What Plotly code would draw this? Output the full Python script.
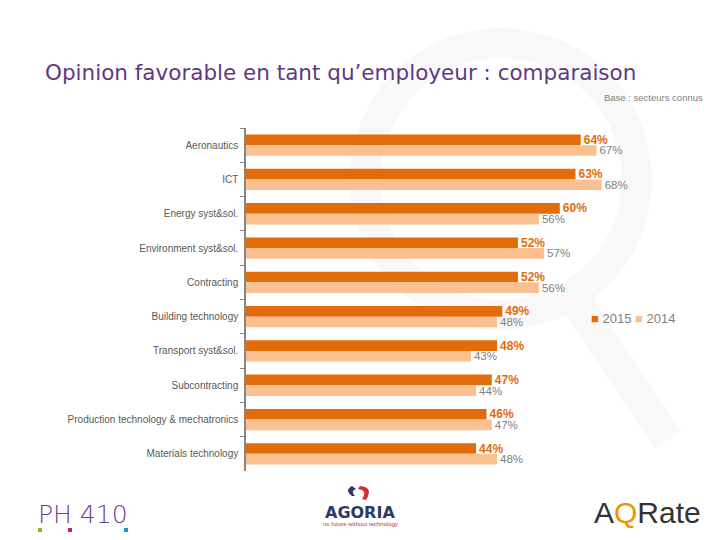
import plotly.graph_objects as go

categories = ["Aeronautics", "ICT", "Energy syst&sol.", "Environment syst&sol.", "Contracting",
              "Building technology", "Transport syst&sol.", "Subcontracting",
              "Production technology & mechatronics", "Materials technology"]
values_2015 = [64, 63, 60, 52, 52, 49, 48, 47, 46, 44]
values_2014 = [67, 68, 56, 57, 56, 48, 43, 44, 47, 48]
series_names = ["2015", "2014"]

W, H = 720, 540
OFF = 8  # page body margin offset
L, R, T = 246 - OFF, 20, 128 - OFF
PH = 343
B = H - T - PH
PW = W - L - R


def px(x):
    return (x - OFF - L) / PW


def py(y):
    return 1 - (y - OFF - T) / PH


C15 = "#E36C0A"
C14 = "#FAC090"

fig = go.Figure()
fig.add_trace(go.Bar(
    y=categories, x=values_2015, name=series_names[0], orientation="h",
    marker=dict(color=C15, line=dict(width=0)),
    texttemplate="%{x}%", textposition="outside", cliponaxis=False, constraintext="none",
    textfont=dict(family="Liberation Sans", size=12, color=C15, weight="bold"),
    showlegend=False,
))
fig.add_trace(go.Bar(
    y=categories, x=values_2014, name=series_names[1], orientation="h",
    marker=dict(color=C14, line=dict(width=0)),
    texttemplate="%{x}%", textposition="outside", cliponaxis=False, constraintext="none",
    textfont=dict(family="Liberation Sans", size=11.5, color="#808080"),
    showlegend=False,
))

shapes = []
# faint magnifier watermark
cx, cy, r = 501, 179, 136
shapes.append(dict(type="circle", xref="paper", yref="paper", layer="below",
                   x0=px(cx - r), x1=px(cx + r), y0=py(cy + r), y1=py(cy - r),
                   line=dict(color="#F8F8F8", width=30)))
shapes.append(dict(type="line", xref="paper", yref="paper", layer="below",
                   x0=px(575), y0=py(300), x1=px(668), y1=py(440),
                   line=dict(color="#F8F8F8", width=32)))
# PH 410 colored squares
for xx, col in [(40, "#8DB33A"), (70, "#C2227A"), (126, "#1F9BB6")]:
    shapes.append(dict(type="rect", xref="paper", yref="paper",
                       x0=px(xx - 2), x1=px(xx + 2), y0=py(532), y1=py(528),
                       fillcolor=col, line=dict(width=0)))
# Agoria swirl
shapes.append(dict(type="path", xref="paper", yref="paper",
                   path=f"M {px(352)},{py(496)} Q {px(344)},{py(490)} {px(352)},{py(486)} "
                        f"L {px(356)},{py(489)} Q {px(350)},{py(491)} {px(355)},{py(496)} Z",
                   fillcolor="#2B3A67", line=dict(width=0)))
shapes.append(dict(type="path", xref="paper", yref="paper",
                   path=f"M {px(360)},{py(486)} Q {px(374)},{py(487)} {px(366)},{py(500)} "
                        f"L {px(362)},{py(499)} Q {px(368)},{py(490)} {px(358)},{py(489)} Z",
                   fillcolor="#D32F2F", line=dict(width=0)))

annotations = [
    dict(text="Opinion favorable en tant qu’employeur : comparaison", xref="paper", yref="paper",
         x=px(43), y=py(72), xanchor="left", yanchor="middle", showarrow=False,
         font=dict(family="DejaVu Sans", size=21.5, color="#5E3A80")),
    dict(text="Base : secteurs connus", xref="paper", yref="paper",
         x=px(705), y=py(98), xanchor="right", yanchor="middle", showarrow=False,
         font=dict(family="Liberation Sans", size=9.5, color="#7F7F7F")),
    dict(text=f"<span style='color:{C15}'>■</span> 2015 <span style='color:{C14}'>■</span> 2014",
         xref="paper", yref="paper", x=px(589), y=py(318), xanchor="left", yanchor="middle",
         showarrow=False, font=dict(family="Liberation Sans", size=13, color="#7F7F7F")),
    dict(text="PH 410", xref="paper", yref="paper", x=px(36), y=py(514), xanchor="left",
         yanchor="middle", showarrow=False,
         font=dict(family="DejaVu Sans", size=25, color="#6B3F8C", weight=300)),
    dict(text="<b>AGORIA</b>", xref="paper", yref="paper", x=px(360), y=py(512), xanchor="center",
         yanchor="middle", showarrow=False,
         font=dict(family="DejaVu Sans", size=16, color="#2B3A67")),
    dict(text="no future without technology", xref="paper", yref="paper", x=px(360), y=py(524),
         xanchor="center", yanchor="middle", showarrow=False,
         font=dict(family="Liberation Sans", size=6, color="#C0392B")),
    dict(text="A<span style='color:#F39200'>Q</span>Rate", xref="paper", yref="paper",
         x=px(592), y=py(513), xanchor="left", yanchor="middle", showarrow=False,
         font=dict(family="Liberation Sans", size=30, color="#333333")),
]

fig.update_layout(
    width=W, height=H,
    margin=dict(l=L, r=R, t=T, b=B, pad=0),
    paper_bgcolor="white", plot_bgcolor="rgba(0,0,0,0)",
    barmode="group", bargap=0.38, bargroupgap=0,
    shapes=shapes, annotations=annotations,
    showlegend=False,
)
fig.update_xaxes(range=[0, PW / 5.23], visible=False, showgrid=False, zeroline=False)
fig.update_yaxes(autorange="reversed", showline=True, linecolor="#868686", linewidth=1.5,
                 ticks="outside", tickson="boundaries", ticklen=4, tickcolor="#868686",
                 ticklabelstandoff=4, automargin=False,
                 showgrid=False, zeroline=False,
                 tickfont=dict(family="Liberation Sans", size=10, color="#595959"))

fig.write_html("out.html")
